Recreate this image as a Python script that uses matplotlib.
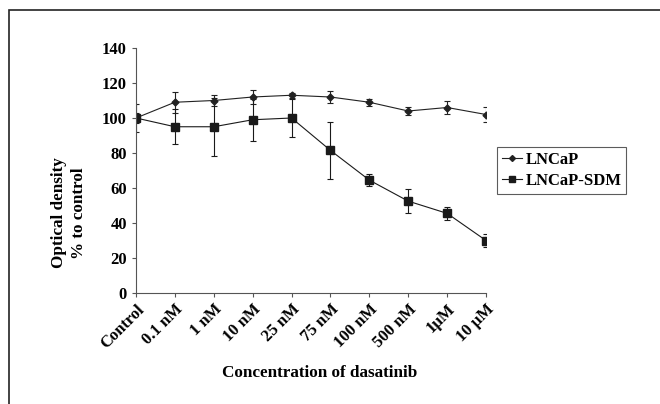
import matplotlib.pyplot as plt
from matplotlib.patches import Rectangle
from matplotlib.lines import Line2D

categories = ["Control", "0.1 nM", "1 nM", "10 nM", "25 nM", "75 nM",
              "100 nM", "500 nM", "1µM", "10 µM"]
lncap = [100, 109, 110, 112, 113, 112, 109, 104, 106, 102]
lncap_err = [8, 6, 3, 4, 1.5, 3.5, 2, 2.5, 3.5, 4.5]
sdm = [100, 95, 95, 99, 100, 81.5, 64.5, 52.5, 45.5, 30]
sdm_err = [3, 10, 16.5, 12, 11, 16.5, 3.5, 7, 3.5, 3.5]

plt.rcParams['font.family'] = ['Liberation Serif', 'DejaVu Serif']
plt.rcParams['font.weight'] = 'bold'

fig = plt.figure(figsize=(6.6, 4.04), dpi=100)
ax = fig.add_axes([136/660, 111/404, 350/660, 245/404])

x = list(range(len(categories)))
ax.errorbar(x, lncap, yerr=lncap_err, color='#222222', marker='D', markersize=3.5,
            lw=0.8, elinewidth=0.8, capsize=2, capthick=0.8)
ax.errorbar(x, sdm, yerr=sdm_err, color='#1a1a1a', marker='s', markersize=6,
            lw=0.8, elinewidth=0.8, capsize=2, capthick=0.8)

ax.set_xlim(0, 9)
ax.set_ylim(0, 140)
ax.set_yticks(range(0, 141, 20))
ax.set_xticks(x)
ax.set_xticklabels(categories, rotation=45, ha='right', rotation_mode='anchor')
for s in ['top', 'right']:
    ax.spines[s].set_visible(False)
for s in ['left', 'bottom']:
    ax.spines[s].set_color('#555555')
    ax.spines[s].set_linewidth(0.8)
ax.tick_params(axis='both', length=3, width=0.8, color='#555555', labelsize=12)
ax.tick_params(axis='x', pad=3)

handles = [Line2D([], [], color='#222222', marker='D', markersize=3, lw=0.8),
           Line2D([], [], color='#1a1a1a', marker='s', markersize=4.5, lw=0.8)]
leg = ax.legend(handles, ['LNCaP', 'LNCaP-SDM'], loc='upper left',
                bbox_to_anchor=(497/660, 1 - 147/404),
                bbox_transform=fig.transFigure, fancybox=False, fontsize=12,
                handlelength=1.2, handletextpad=0.2, borderpad=0.3,
                borderaxespad=0, labelspacing=0.3, edgecolor='#333333')
leg.get_frame().set_linewidth(0.8)

fig.text(320/660, 1 - 373/404, "Concentration of dasatinib", ha='center', va='center',
         fontsize=12.3, fontweight='bold')
fig.text(69/660, 1 - 213/404, "Optical density\n% to control", ha='center', va='center',
         rotation=90, fontsize=12.3, fontweight='bold', linespacing=1.35)

fig.patches.append(Rectangle((9/660, -0.1), 1.2, 1 - 10/404 + 0.1,
                             transform=fig.transFigure, fill=False,
                             edgecolor='#222222', lw=1.2))

fig.savefig("out.png", dpi=100)
